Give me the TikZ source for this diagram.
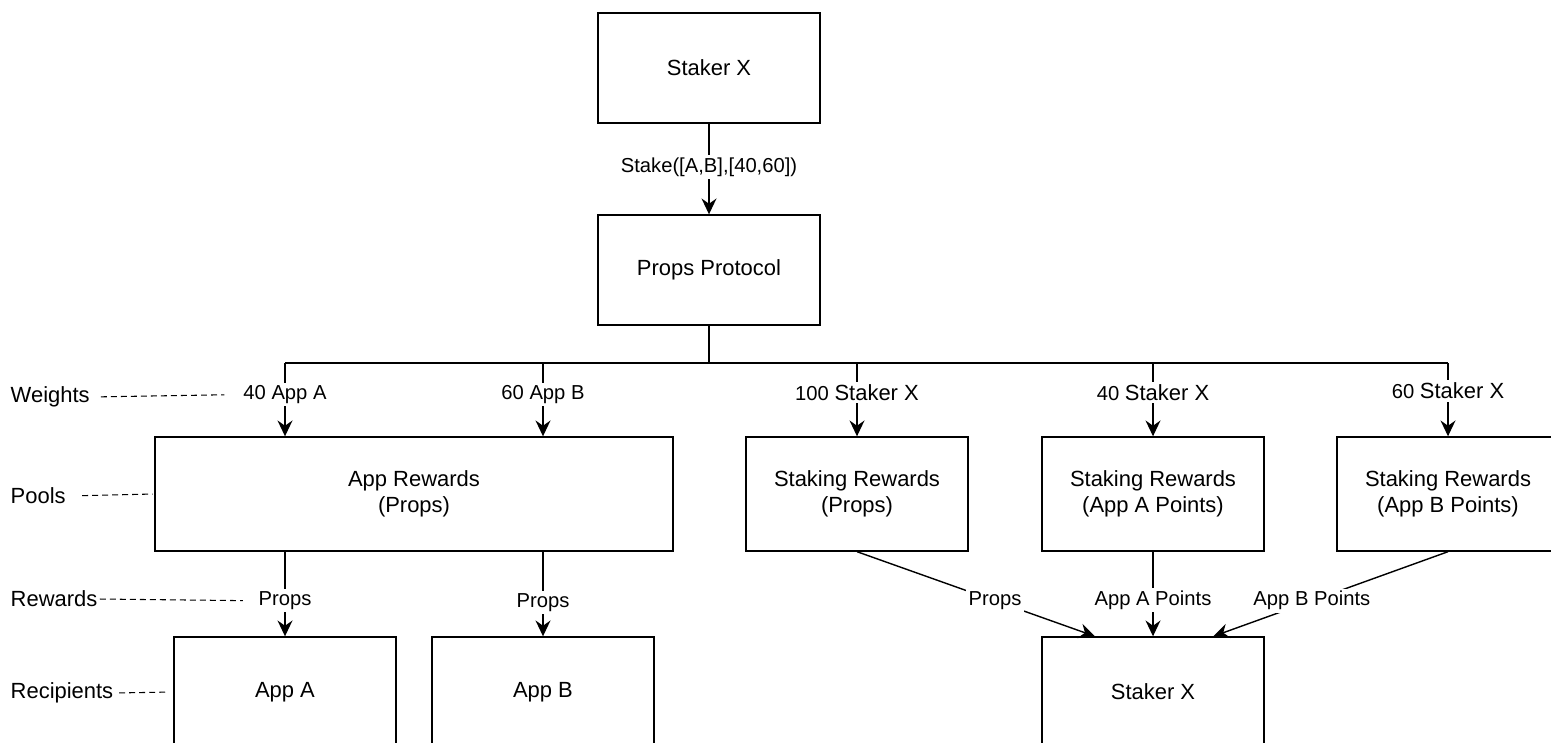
\documentclass[tikz,border=0pt]{standalone}
\usepackage{fontspec}
\setmainfont{Liberation Sans}
\usetikzlibrary{arrows.meta,calc}
\begin{document}
\begin{tikzpicture}[x=0.02cm,y=-0.02cm,line width=0.8pt,
	box/.style={draw,inner sep=0pt,align=center,minimum width=4.44cm,minimum height=2.2cm,font=\fontsize{12.5}{15}\selectfont},
	lbl/.style={fill=white,inner sep=1.5pt,font=\fontsize{11.5}{13}\selectfont},
	arr/.style={-{Stealth[length=9pt,width=8.5pt,inset=3pt]}},
	tag/.style={anchor=west,inner sep=0pt,font=\fontsize{12.5}{15}\selectfont},
	guide/.style={line width=0.6pt,dash pattern=on 3.4pt off 2.3pt}]
	\useasboundingbox (0,0) rectangle (1551,743);
	\clip (0,0) rectangle (1551,743);
	\node[box] (top) at (709,68) {Staker X};
	\node[box] (proto) at (709,270) {Props Protocol};
	\node[box,minimum width=10.36cm,minimum height=2.28cm] (appR) at (414,494) {App Rewards\\(Props)};
	\node[box,minimum height=2.28cm] (stkP) at (857,494) {Staking Rewards\\(Props)};
	\node[box,minimum height=2.28cm] (stkA) at (1153,494) {Staking Rewards\\(App A Points)};
	\node[box,minimum height=2.28cm] (stkB) at (1448,494) {Staking Rewards\\(App B Points)};
	\node[box] (appA) at (285,692) {App A};
	\node[box] (appB) at (543,692) {App B};
	\node[box] (stkX) at (1153,692) {Staker X};
	\coordinate (dA) at (285,363);
	\coordinate (dB) at (543,363);
	\coordinate (dP) at (857,363);
	\coordinate (dX) at (1153,363);
	\coordinate (dY) at (1448,363);
	\draw[arr] (top) -- node[lbl,pos=0.48] {Stake([A,B],[40,60])} (proto);
	\draw (proto) -- (proto |- dA);
	\draw (dA) -- (dY);
	\draw[arr] (dA) -- node[lbl,pos=0.43] (wA) {40 App A} (dA |- appR.north);
	\draw[arr] (dB) -- node[lbl,pos=0.43] {60 App B} (dB |- appR.north);
	\draw[arr] (dP) -- node[lbl,pos=0.4] {100 {\fontsize{12.5}{15}\selectfont Staker X}} (stkP);
	\draw[arr] (dX) -- node[lbl,pos=0.4] {40 {\fontsize{12.5}{15}\selectfont Staker X}} (stkA);
	\draw[arr] (dY) -- node[lbl,pos=0.38] {60 {\fontsize{12.5}{15}\selectfont Staker X}} (stkB);
	\draw[arr] (appR.south -| appA) -- node[lbl,pos=0.58] (rA) {Props} (appA);
	\draw[arr] (appR.south -| appB) -- node[lbl,pos=0.6] {Props} (appB);
	\draw[arr] (stkP.south) -- node[lbl,pos=0.58] {Props} ($(stkX.north west)!0.24!(stkX.north east)$);
	\draw[arr] (stkA) -- node[lbl,pos=0.57] {App A Points} (stkX);
	\draw[arr] (stkB.south) -- node[lbl,pos=0.58] {App B Points} ($(stkX.north west)!0.77!(stkX.north east)$);
	\node[tag] (weights) at (10,397) {Weights};
	\node[tag] (pools) at (10,496) {Pools};
	\node[tag] (rewards) at (10,599) {Rewards};
	\node[tag] (recip) at (10,693) {Recipients};
	\draw[guide,shorten <=6pt,shorten >=9pt] (weights.east) -- (wA.west);
	\draw[guide,shorten <=9pt,shorten >=1pt] (pools.east) -- (appR.west);
	\draw[guide,shorten <=1pt,shorten >=7pt] (rewards.east) -- (rA.west);
	\draw[guide,shorten <=3pt,shorten >=3pt] (recip.east) -- (appA.west);
\end{tikzpicture}
\end{document}
